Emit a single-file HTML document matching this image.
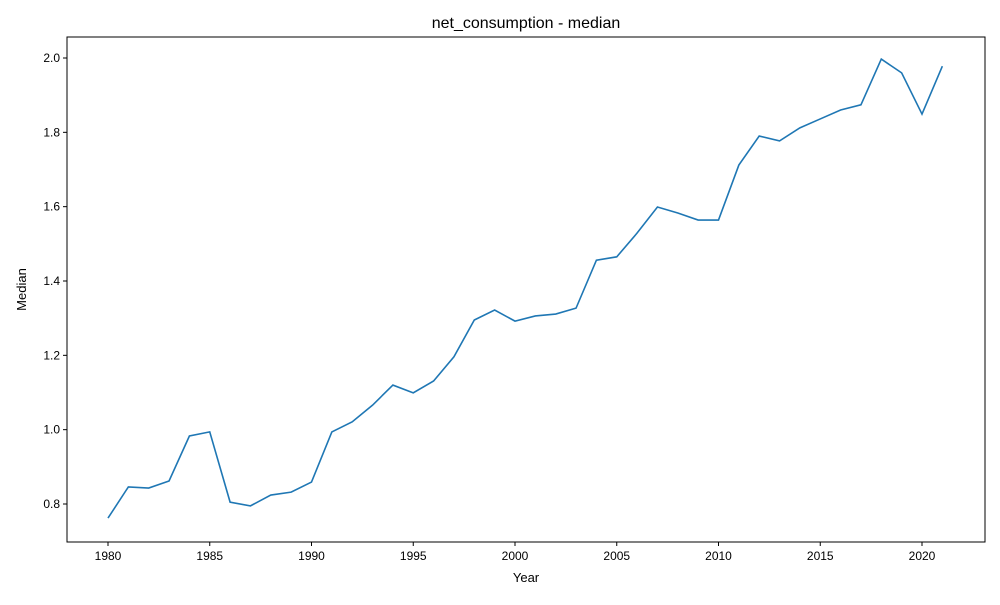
<!DOCTYPE html>
<html><head><meta charset="utf-8"><style>
body{margin:0;background:#fff;font-family:"Liberation Sans","DejaVu Sans",sans-serif;}
</style></head><body>
<svg id="chart" width="1000" height="600" xmlns="http://www.w3.org/2000/svg"></svg>
<script>
const years=[1980,1981,1982,1983,1984,1985,1986,1987,1988,1989,1990,1991,1992,1993,1994,1995,1996,1997,1998,1999,2000,2001,2002,2003,2004,2005,2006,2007,2008,2009,2010,2011,2012,2013,2014,2015,2016,2017,2018,2019,2020,2021];
const medianValues=[0.762,0.846,0.843,0.862,0.983,0.994,0.805,0.795,0.824,0.832,0.859,0.994,1.021,1.066,1.120,1.099,1.131,1.196,1.295,1.322,1.292,1.306,1.311,1.327,1.456,1.465,1.529,1.599,1.583,1.564,1.564,1.712,1.790,1.777,1.812,1.836,1.860,1.874,1.997,1.960,1.849,1.978];
const xTicks=[1980,1985,1990,1995,2000,2005,2010,2015,2020];
const yTicks=[0.8,1.0,1.2,1.4,1.6,1.8,2.0];
const svg=document.getElementById('chart');
const NS='http://www.w3.org/2000/svg';
const L=67,R=985,T=37,B=542;
const x=v=>108+(v-1980)*(922-108)/40;
const y=v=>504-(v-0.8)*371.67;
function mk(tag,attrs,parent){const e=document.createElementNS(NS,tag);for(const k in attrs)e.setAttribute(k,attrs[k]);(parent||svg).appendChild(e);return e;}
const frame=mk('rect',{x:L,y:T,width:R-L,height:B-T,fill:'none',stroke:'#000','stroke-width':1});


const xg=mk('g',{});


xTicks.forEach(t=>{mk('line',{x1:x(t),x2:x(t),y1:B,y2:B+4,stroke:'#000'},xg);
const tx=mk('text',{x:x(t),y:B+18,'text-anchor':'middle','font-size':12},xg);tx.textContent=t;

});
const yg=mk('g',{});


yTicks.forEach(t=>{mk('line',{x1:L-4,x2:L,y1:y(t),y2:y(t),stroke:'#000'},yg);
const tx=mk('text',{x:L-7,y:y(t)+4,'text-anchor':'end','font-size':12},yg);tx.textContent=t.toFixed(1);

});
const line=mk('polyline',{points:years.map((yr,i)=>x(yr)+','+y(medianValues[i])).join(' '),fill:'none',stroke:'#1f77b4','stroke-width':1.6});


const title=mk('text',{x:(L+R)/2,y:28,'text-anchor':'middle','font-size':16});title.textContent='net_consumption - median';


const xl=mk('text',{x:(L+R)/2,y:582,'text-anchor':'middle','font-size':13});xl.textContent='Year';


const yl=mk('text',{x:0,y:0,'text-anchor':'middle','font-size':13,transform:'translate(26,'+((T+B)/2)+') rotate(-90)'});yl.textContent='Median';


</script>
</body></html>
